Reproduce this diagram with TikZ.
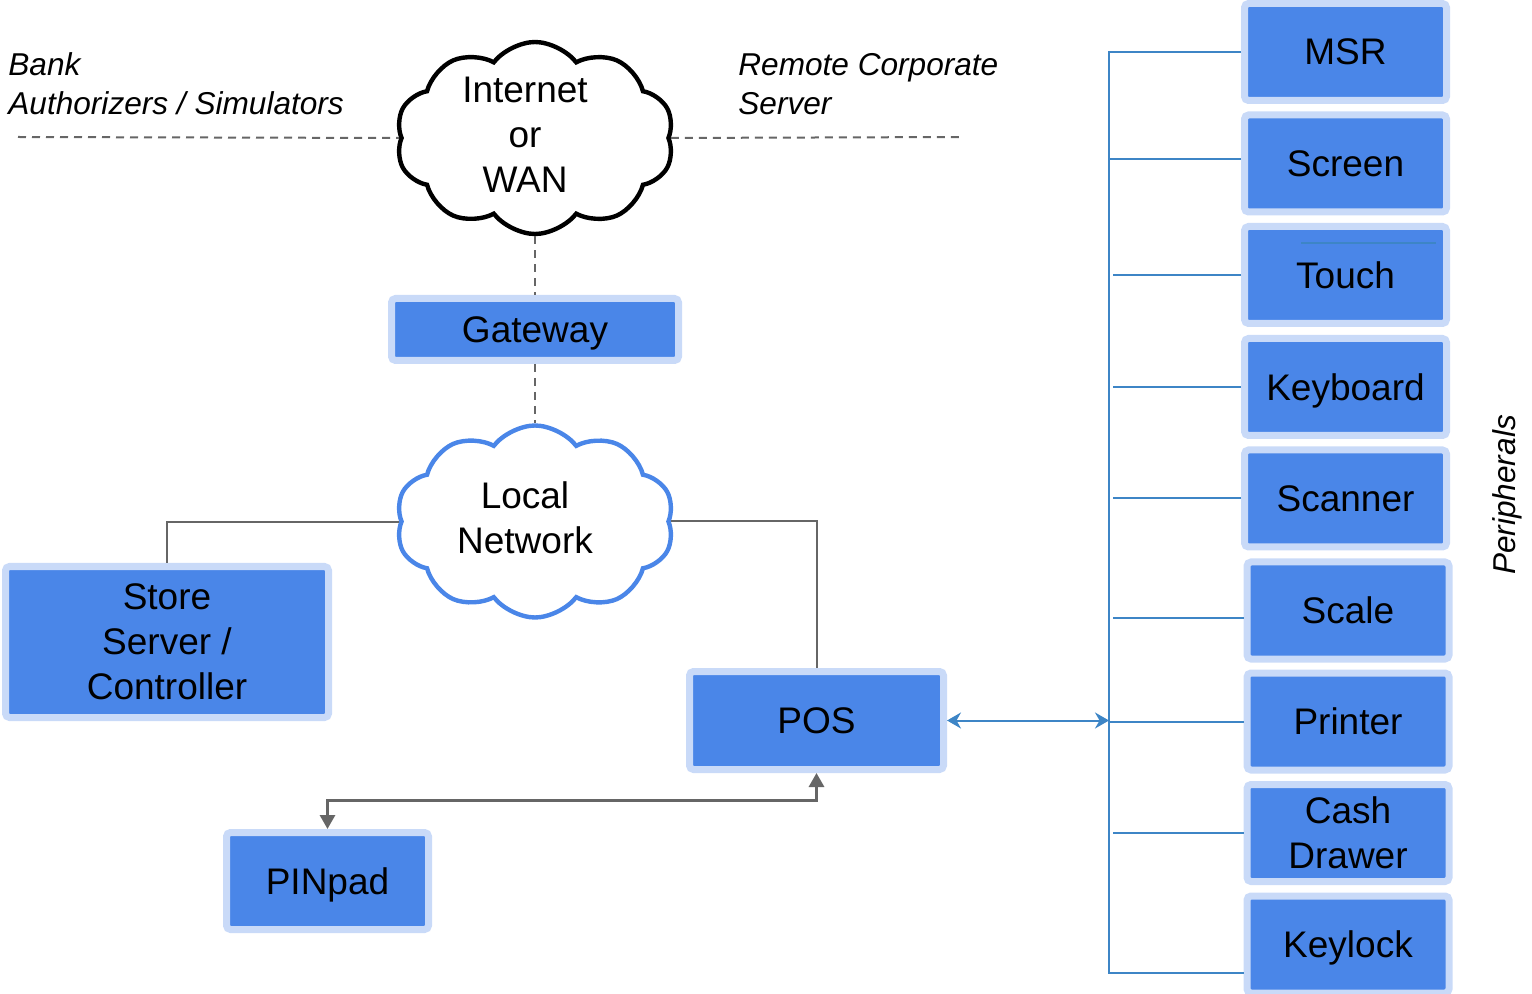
\documentclass[tikz,border=0pt]{standalone}
\usepackage{fontspec}
\setmainfont{Liberation Sans}
\usetikzlibrary{shapes.symbols,arrows.meta}
\definecolor{boxblue}{HTML}{4A86E8}
\definecolor{boxrim}{HTML}{C9DAF8}
\definecolor{buscol}{HTML}{3D85C6}
\definecolor{wiregray}{HTML}{666666}
\tikzset{
  dev/.style={rectangle, fill=boxblue, draw=boxrim, line width=3.5pt, rounded corners=2pt,
    minimum width=101pt, minimum height=48.5pt, inner sep=0pt, align=center, text depth=0pt,
    font=\fontsize{18.5}{22.5}\selectfont},
  net/.style={cloud, cloud puffs=10, cloud puff arc=105, aspect=1.42, fill=white, line width=2.2pt,
    minimum width=139pt, minimum height=96pt, inner sep=0pt},
  nettext/.style={align=center, inner sep=0pt, xshift=-5pt, yshift=1.75pt,
    font=\fontsize{18.5}{22.5}\selectfont},
  side/.style={align=left, inner sep=0pt, font=\fontsize{15.8}{19.5}\selectfont\itshape},
  wire/.style={wiregray, line width=1pt},
  link/.style={wiregray, line width=1pt, dash pattern=on 4pt off 3pt},
  busline/.style={buscol, line width=1pt},
  pinlink/.style={wiregray, line width=1.5pt},
}
\begin{document}
\begin{tikzpicture}[x=0.5pt,y=-0.5pt]
        \useasboundingbox (0,0) rectangle (1532,994);
        \coordinate (bankend) at (18,137);
        \coordinate (corpend) at (962,137);
        \coordinate (bus) at (1109,0);
        \coordinate (busin) at (1113,0);
        \coordinate (busbot) at (1109,973);
        \coordinate (pinturn) at (328,800);

        \node[side, anchor=west] (bank) at (8,84) {Bank\\Authorizers / Simulators};
        \node[side, anchor=west] (corp) at (738,84) {Remote Corporate\\Server};
        \node[side, rotate=90] (periph) at (1507,495) {Peripherals};

        \node[net, draw=black, label={[nettext, name=inettext]center:{Internet\\or\\WAN}}] (inet) at (535,138) {};
        \node[dev, minimum width=143.5pt, minimum height=31pt] (gateway) at (535,329.5) {Gateway};
        \node[net, draw=boxblue, label={[nettext, name=lantext]center:{Local\\Network}}] (lan) at (535,521.5) {};
        \node[dev, minimum width=161.5pt, minimum height=75.5pt] (store) at (167,642) {Store\\Server /\\Controller};
        \node[dev, minimum width=127pt, minimum height=49pt] (pos) at (816.5,720.5) {POS};
        \node[dev] (pinpad) at (327.5,881) {PINpad};

        \node[dev] (msr) at (1345.5,52) {MSR};
        \node[dev] (screen) at (1345.5,163.5) {Screen};
        \node[dev] (touch) at (1345.5,275) {Touch};
        \node[dev] (keyboard) at (1345.5,387) {Keyboard};
        \node[dev] (scanner) at (1345.5,498.5) {Scanner};
        \node[dev] (scale) at (1348,610.5) {Scale};
        \node[dev] (printer) at (1348,721.5) {Printer};
        \node[dev] (cash) at (1348,833) {Cash\\Drawer};
        \node[dev] (keylock) at (1348,944.5) {Keylock};

        \draw[link] (bankend) -- (inet.west);
        \draw[link] (inet.east) -- (corpend);
        \draw[link] (inet.south) -- (gateway.north);
        \draw[link] (gateway.south) -- (lan.north);
        \draw[wire] (lan.west) -| (store.north);
        \draw[wire] (lan.east) -| (pos.north);
        \draw[pinlink, {Triangle[length=7pt,width=7.5pt]}-{Triangle[length=7pt,width=7.5pt]}]
          (pinpad.north) |- (pinturn) -| (pos.south);

        \draw[busline] (msr.west) -| (busbot) -- (busbot -| keylock.west);
        \foreach \dev/\col/\dy in {screen/bus/2.25pt, touch/busin/0pt, keyboard/busin/0pt,
            scanner/busin/0pt, scale/busin/-3.75pt, printer/bus/0pt, cash/busin/0pt}
          \draw[busline] ([yshift=\dy]\dev.west) -- ([yshift=\dy]\dev.west -| \col);
        \draw[busline, {Stealth[length=7pt,width=8pt]}-{Stealth[length=7pt,width=8pt]}]
          (pos.east) -- (pos.east -| bus);
        \draw[busline] (touch.center) ++(-44.5,-32) -- ++(135,0);
      \end{tikzpicture}
\end{document}
